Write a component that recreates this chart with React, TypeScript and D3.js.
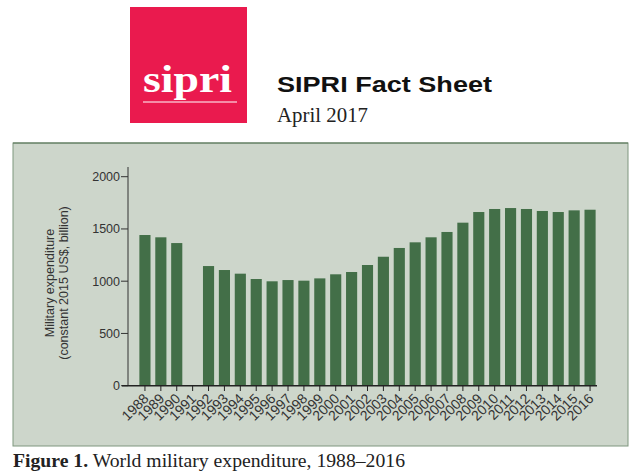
import React from "react";
import * as d3 from "d3";

const years = ["1988","1989","1990","1991","1992","1993","1994","1995","1996","1997","1998","1999","2000","2001","2002","2003","2004","2005","2006","2007","2008","2009","2010","2011","2012","2013","2014","2015","2016"];
const spending: (number | null)[] = [1442,1420,1365,null,1145,1107,1072,1021,999,1011,1005,1027,1066,1088,1155,1234,1318,1372,1420,1471,1560,1662,1691,1700,1691,1672,1662,1678,1684];
const yTicks = [0, 500, 1000, 1500, 2000];

export default function App() {
  const x = d3.scaleBand<string>().domain(years).range([137, 598]).paddingInner(0.3).paddingOuter(0.15);
  const y = d3.scaleLinear().domain([0, 2000]).range([385.7, 176.7]);
  const sans = "Liberation Sans, Arial, sans-serif";
  const serif = "Liberation Serif, Times New Roman, serif";
  return (
    <svg width={640} height={476} style={{ position: "absolute", left: 0, top: 0, background: "#fff" }}>
      {/* header */}
      <rect x={130} y={7} width={117} height={116} fill="#ea1a4e" />
      <text x={143} y={92} fill="#fff" fontFamily={serif} fontWeight="bold" fontSize={38} textLength={89} lengthAdjust="spacingAndGlyphs">sipri</text>
      <line x1={143} x2={237} y1={102} y2={102} stroke="#fff" strokeWidth={1} />
      <text x={277} y={92} fill="#111" fontFamily={sans} fontWeight="bold" fontSize={22} textLength={215} lengthAdjust="spacingAndGlyphs">SIPRI Fact Sheet</text>
      <text x={277} y={122} fill="#222" fontFamily={serif} fontSize={20} textLength={91} lengthAdjust="spacingAndGlyphs">April 2017</text>

      {/* panel */}
      <rect x={13} y={143} width={615} height={303} fill="#cdd6cb" stroke="#7f977f" strokeWidth={1} />
      <line x1={13} x2={628} y1={143} y2={143} stroke="#557355" strokeWidth={1.2} />

      {/* bars */}
      {years.map((yr, i) => {
        const v = spending[i];
        if (v == null) return null;
        return <rect key={yr} x={x(yr)} y={y(v)} width={x.bandwidth()} height={y(0) - y(v)} fill="#436f48" />;
      })}

      {/* y axis */}
      <line x1={128} x2={128} y1={167} y2={385.7} stroke="#333" strokeWidth={1} />
      {yTicks.map(t => (
        <g key={t}>
          <line x1={121} x2={128} y1={y(t)} y2={y(t)} stroke="#333" strokeWidth={1} />
          <text x={120} y={y(t)} dy="0.35em" textAnchor="end" fontFamily={sans} fontSize={12.5} fill="#333">{t}</text>
        </g>
      ))}
      <g transform="translate(50,283) rotate(-90)">
        <text x={0} y={0} dy="0.35em" textAnchor="middle" fontFamily={sans} fontSize={12.5} fill="#333">Military expenditure</text>
        <text x={0} y={14} dy="0.35em" textAnchor="middle" fontFamily={sans} fontSize={12.5} fill="#333">(constant 2015 US$, billion)</text>
      </g>

      {/* x axis */}
      <line x1={122} x2={597} y1={385.7} y2={385.7} stroke="#222" strokeWidth={1.5} />
      {years.map(yr => {
        const cx = (x(yr) as number) + x.bandwidth() / 2;
        return (
          <g key={yr}>
            <line x1={cx} x2={cx} y1={385.7} y2={391} stroke="#222" strokeWidth={1} />
            <text transform={`translate(${cx + 1},${396}) rotate(-45)`} textAnchor="end" dy="0.35em" fontFamily={sans} fontSize={14} fill="#333">{yr}</text>
          </g>
        );
      })}

      {/* caption */}
      <text x={13} y={467} fontFamily={serif} fontSize={18} fill="#222" textLength={392} lengthAdjust="spacingAndGlyphs">
        <tspan fontWeight="bold">Figure 1.</tspan>
        <tspan> World military expenditure, 1988–2016</tspan>
      </text>
    </svg>
  );
}
